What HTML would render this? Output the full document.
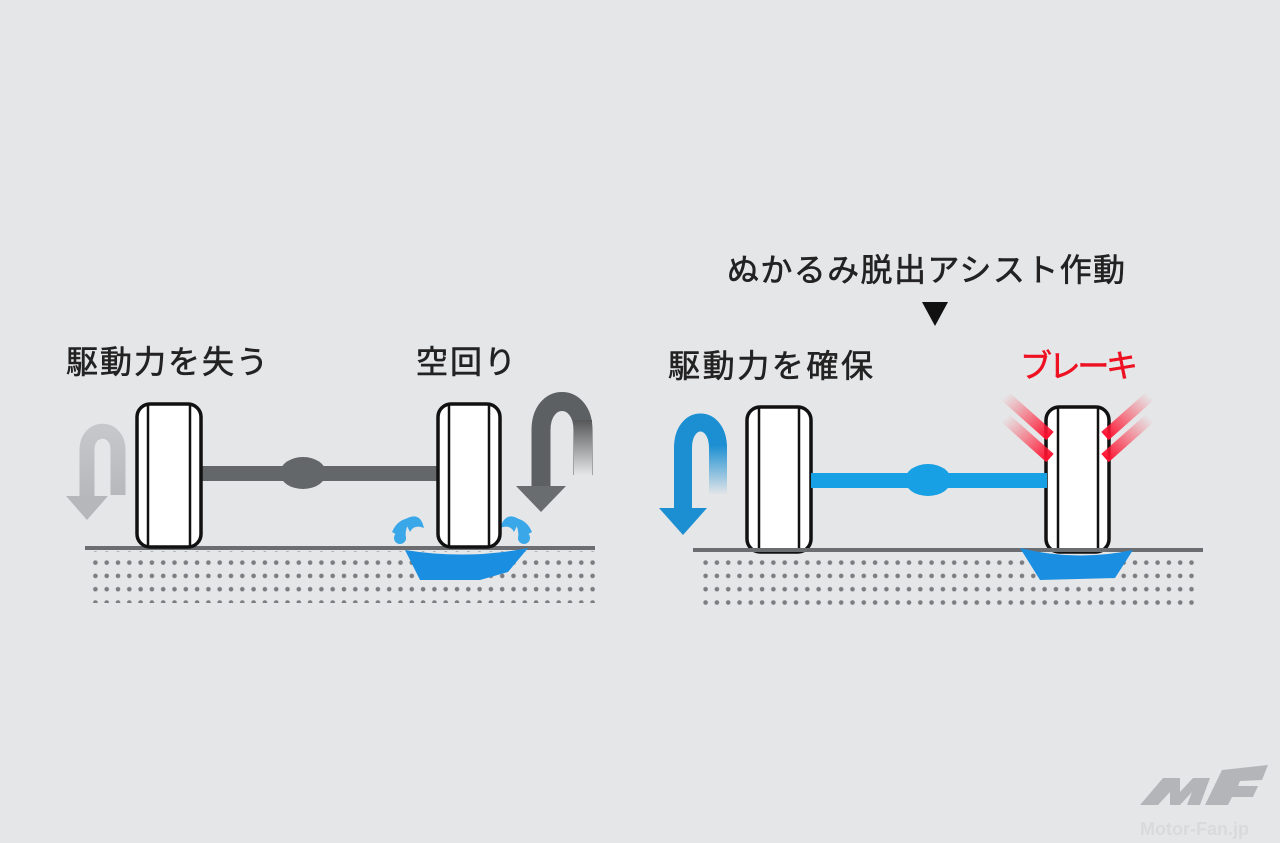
<!DOCTYPE html>
<html><head><meta charset="utf-8"><style>
html,body{margin:0;padding:0;background:#e5e6e8;}
svg{display:block}
text{font-family:"Liberation Sans","Noto Sans CJK JP",sans-serif;stroke-width:0.6;}
</style></head><body>
<svg width="1280" height="843" viewBox="0 0 1280 843" xmlns="http://www.w3.org/2000/svg">
<defs>
<pattern id="dots" x="0" y="0" width="11.3" height="13.3" patternUnits="userSpaceOnUse">
<circle cx="5" cy="4" r="2.3" fill="#7b7d80"/>
</pattern>
<linearGradient id="gL" gradientUnits="userSpaceOnUse" x1="0" y1="500" x2="0" y2="430">
<stop offset="0" stop-color="#b5b7ba"/><stop offset="1" stop-color="#c5c7ca"/></linearGradient>
<linearGradient id="gR" gradientUnits="userSpaceOnUse" x1="0" y1="475" x2="0" y2="420">
<stop offset="0" stop-color="#e5e6e8"/><stop offset="1" stop-color="#555759"/></linearGradient>
<linearGradient id="gB" gradientUnits="userSpaceOnUse" x1="0" y1="495" x2="0" y2="445">
<stop offset="0" stop-color="#e5e6e8"/><stop offset="1" stop-color="#1b8fd2"/></linearGradient>
<linearGradient id="red1" x1="0" y1="0" x2="1" y2="1">
<stop offset="0" stop-color="#ff3040" stop-opacity="0"/><stop offset="1" stop-color="#ff1030"/></linearGradient>
<linearGradient id="red2" x1="1" y1="0" x2="0" y2="1">
<stop offset="0" stop-color="#ff3040" stop-opacity="0"/><stop offset="1" stop-color="#ff1030"/></linearGradient>
</defs>

<!-- texts -->
<text x="66" y="373" font-size="32" fill="#222" stroke="#222" textLength="202">駆動力を失う</text>
<text x="416" y="373" font-size="32" fill="#222" stroke="#222" textLength="100">空回り</text>
<text x="727" y="281" font-size="32" fill="#222" stroke="#222" textLength="398">ぬかるみ脱出アシスト作動</text>
<path d="M922 302 L948 302 L935 326 Z" fill="#111"/>
<text x="668" y="377" font-size="32" fill="#222" stroke="#222" textLength="205">駆動力を確保</text>
<text x="1020" y="377" font-size="32" fill="#ee1122" stroke="#ee1122" textLength="118">ブレーキ</text>

<!-- LEFT ground -->
<rect x="85" y="546" width="510" height="4" fill="#6b6d70"/>
<rect x="88" y="551" width="508" height="52" fill="url(#dots)"/>
<!-- left arrows -->
<path d="M87 500 L87 450 C87 425 118 425 118 450 L118 495" fill="none" stroke="url(#gL)" stroke-width="15"/>
<path d="M66 496 L108 496 L87 520 Z" fill="#b5b7ba"/>
<path d="M541 488 L541 430 C541 392 583 392 583 430 L583 475" fill="none" stroke="#5d6062" stroke-width="19"/>
<path d="M574 420 L592 420 L592 478 L574 478 Z" fill="url(#gR)"/>
<path d="M516 486 L566 486 L541 512 Z" fill="#6a6d70"/>
<!-- axle -->
<rect x="200" y="466" width="240" height="15" fill="#64676a"/>
<ellipse cx="303" cy="473" rx="23" ry="16" fill="#64676a"/>
<!-- water -->
<path d="M405 550 Q467 560 528 548 L508 572 L480 580 L420 580 Z" fill="#1a8ee0"/>
<g fill="#3aa8e8">
<path d="M392 532 Q398 518 412 518 Q404 528 406 540 Z"/><circle cx="400" cy="538" r="6"/>
<path d="M404 520 Q420 510 424 528 Q414 524 410 532 Z"/>
<path d="M532 532 Q526 518 512 518 Q520 528 518 540 Z"/><circle cx="524" cy="538" r="6"/>
<path d="M520 520 Q506 510 500 528 Q510 524 514 532 Z"/>
</g>
<!-- wheels -->
<g fill="#fff" stroke="#111" stroke-width="3.5">
<rect x="137" y="404" width="64" height="143" rx="13"/>
<rect x="438" y="404" width="62" height="143" rx="13"/>
<rect x="747" y="407" width="64" height="145" rx="13"/>
<rect x="1046" y="407" width="63" height="145" rx="13"/>
</g>
<g stroke="#111" stroke-width="2.5">
<line x1="148" y1="405" x2="148" y2="546"/><line x1="190" y1="405" x2="190" y2="546"/>
<line x1="449" y1="405" x2="449" y2="546"/><line x1="489" y1="405" x2="489" y2="546"/>
<line x1="759" y1="408" x2="759" y2="551"/><line x1="799" y1="408" x2="799" y2="551"/>
<line x1="1058" y1="408" x2="1058" y2="551"/><line x1="1098" y1="408" x2="1098" y2="551"/>
</g>

<!-- RIGHT -->
<rect x="693" y="548" width="510" height="4" fill="#6b6d70"/>
<rect x="700" y="554" width="500" height="52" fill="url(#dots)"/>
<rect x="811" y="473" width="236" height="15" fill="#17a0e3"/>
<ellipse cx="928" cy="480" rx="23" ry="16" fill="#17a0e3"/>
<path d="M1020 548 Q1076 562 1133 550 L1115 578 L1040 580 Z" fill="#1a8ee0"/>
<path d="M683 510 L683 448 C683 414 718 414 718 448" fill="none" stroke="#1b8fd2" stroke-width="18"/>
<path d="M709 445 L727 445 L727 495 L709 495 Z" fill="url(#gB)"/>
<path d="M659 508 L707 508 L683 535 Z" fill="#1b8fd2"/>
<!-- brake streaks -->
<g stroke-width="11" stroke-linecap="butt">
<line x1="1005" y1="396" x2="1050" y2="436" stroke="url(#red1)"/>
<line x1="1005" y1="418" x2="1050" y2="458" stroke="url(#red1)"/>
<line x1="1150" y1="396" x2="1105" y2="436" stroke="url(#red2)"/>
<line x1="1150" y1="418" x2="1105" y2="458" stroke="url(#red2)"/>
</g>
<!-- logo -->
<path d="M1140 805 L1163 778 L1180 778 L1180 792 L1193 778 L1210 778 L1200 805 L1187 805 L1192 792 L1180 805 L1170 805 L1170 792 L1158 805 Z M1205 805 L1222 770 L1268 765 L1262 780 L1240 781 L1238 786 L1258 786 L1253 797 L1232 797 L1228 805 Z" fill="#b3b5b8"/>
<text x="1140" y="835" font-size="18" fill="#d9dadc" font-weight="bold">Motor-Fan.jp</text>
</svg>
</body></html>
